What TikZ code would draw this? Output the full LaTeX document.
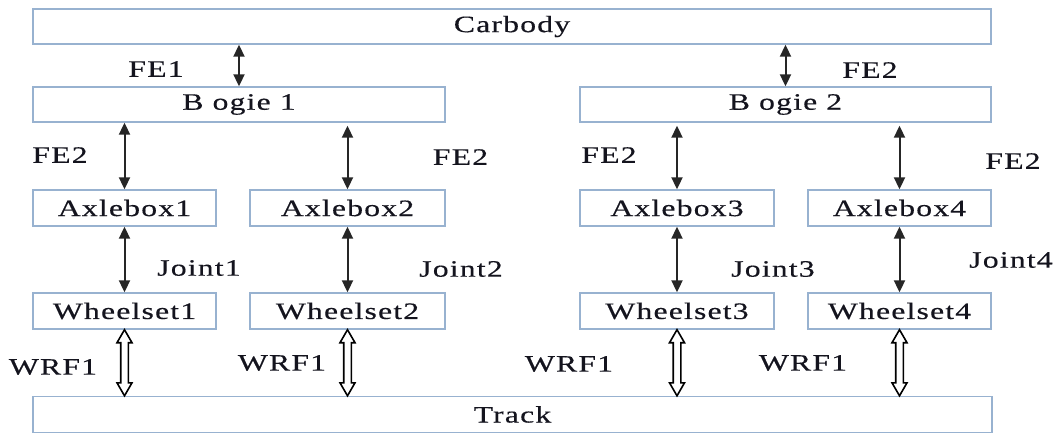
\documentclass[tikz,border=0pt]{standalone}
\usepackage{fontspec}
\setmainfont{Liberation Serif}[FakeStretch=1.35, LetterSpace=5, FakeBold=0.4]
\usetikzlibrary{arrows.meta,calc}

\definecolor{boxline}{RGB}{152,178,208}
\definecolor{inkcol}{RGB}{20,20,30}

% hollow double-shafted arrow from the bottom of #1 down to the top of #2
\newcommand\wrfarrow[2]{%
  \draw[wrf] let \p1=(#1.south), \p2=(#2.north) in
    (\x1,\y1) -- (\x1+7.5pt,\y1-13pt) -- (\x1+3.8pt,\y1-13pt) -- (\x1+3.8pt,\y2+13pt)
    -- (\x1+7.5pt,\y2+13pt) -- (\x1,\y2) -- (\x1-7.5pt,\y2+13pt) -- (\x1-3.8pt,\y2+13pt)
    -- (\x1-3.8pt,\y1-13pt) -- (\x1-7.5pt,\y1-13pt) -- cycle;}

\begin{document}
\begin{tikzpicture}[x=1pt,y=-1pt,
  txt/.style={font=\fontsize{23.5}{28}\selectfont, text=inkcol},
  blk/.style={txt, draw=boxline, line width=1.4pt, minimum height=35pt, inner sep=0pt},
  lbl/.style={txt, inner sep=0pt},
  link/.style={line width=2pt, draw=black!85,
    {Triangle[width=11pt,length=12pt]}-{Triangle[width=11pt,length=12pt]}},
  wrf/.style={draw=black, fill=white, line width=1.6pt, line join=miter}
]
\useasboundingbox (0,0) rectangle (1053,432);

% boxes
\node[blk, minimum width=958pt] (car) at (512,26.5) {Carbody};
\node[blk, minimum width=412pt] (bog1) at (239,104.5) {B ogie 1};
\node[blk, minimum width=411pt] (bog2) at (785.5,104.5) {B ogie 2};

\node[blk, minimum width=183pt, minimum height=36pt] (ax1) at (124.5,208) {Axlebox1};
\node[blk, minimum width=195pt, minimum height=36pt] (ax2) at (347.5,208) {Axlebox2};
\node[blk, minimum width=194pt, minimum height=36pt] (ax3) at (677,208) {Axlebox3};
\node[blk, minimum width=183pt, minimum height=36pt] (ax4) at (899.5,208) {Axlebox4};

\node[blk, minimum width=183pt, minimum height=36pt] (ws1) at (124.5,311) {Wheelset1};
\node[blk, minimum width=195pt, minimum height=36pt] (ws2) at (347.5,311) {Wheelset2};
\node[blk, minimum width=194pt, minimum height=36pt] (ws3) at (677,311) {Wheelset3};
\node[blk, minimum width=183pt, minimum height=36pt] (ws4) at (899.5,311) {Wheelset4};

\node[blk, minimum width=959pt, minimum height=36pt] (trk) at (512.5,414.5) {Track};

% carbody -- bogies
\draw[link] (bog1.north |- car.south) -- (bog1.north);
\draw[link] (bog2.north |- car.south) -- (bog2.north);

% bogies -- axleboxes
\draw[link] (ax1.north |- bog1.south) -- (ax1.north);
\draw[link] ([yshift=-3pt]ax2.north |- bog1.south) -- (ax2.north);
\draw[link] ([yshift=-3pt]ax3.north |- bog2.south) -- (ax3.north);
\draw[link] ([yshift=-3pt]ax4.north |- bog2.south) -- (ax4.north);

% axleboxes -- wheelsets
\foreach \i in {1,2,3,4}
  \draw[link] (ax\i.south) -- (ws\i.north);

% wheelsets -- track
\foreach \i in {1,2,3,4}
  \wrfarrow{ws\i}{trk};

% labels
\node[lbl] (lfe1) at (156,69) {FE1};
\node[lbl] (lfe2a) at (870,70) {FE2};
\node[lbl] (lfe2b) at (60,155) {FE2};
\node[lbl] (lfe2c) at (460.5,157) {FE2};
\node[lbl] (lfe2d) at (609,155) {FE2};
\node[lbl] (lfe2e) at (1013,161) {FE2};

\node[lbl] (lj1) at (199,268) {Joint1};
\node[lbl] (lj2) at (461,269) {Joint2};
\node[lbl] (lj3) at (773,269) {Joint3};
\node[lbl] (lj4) at (1011,260) {Joint4};

\node[lbl] (lw1) at (53,367) {WRF1};
\node[lbl] (lw2) at (282,363) {WRF1};
\node[lbl] (lw3) at (569,364) {WRF1};
\node[lbl] (lw4) at (803,363) {WRF1};
\end{tikzpicture}
\end{document}
